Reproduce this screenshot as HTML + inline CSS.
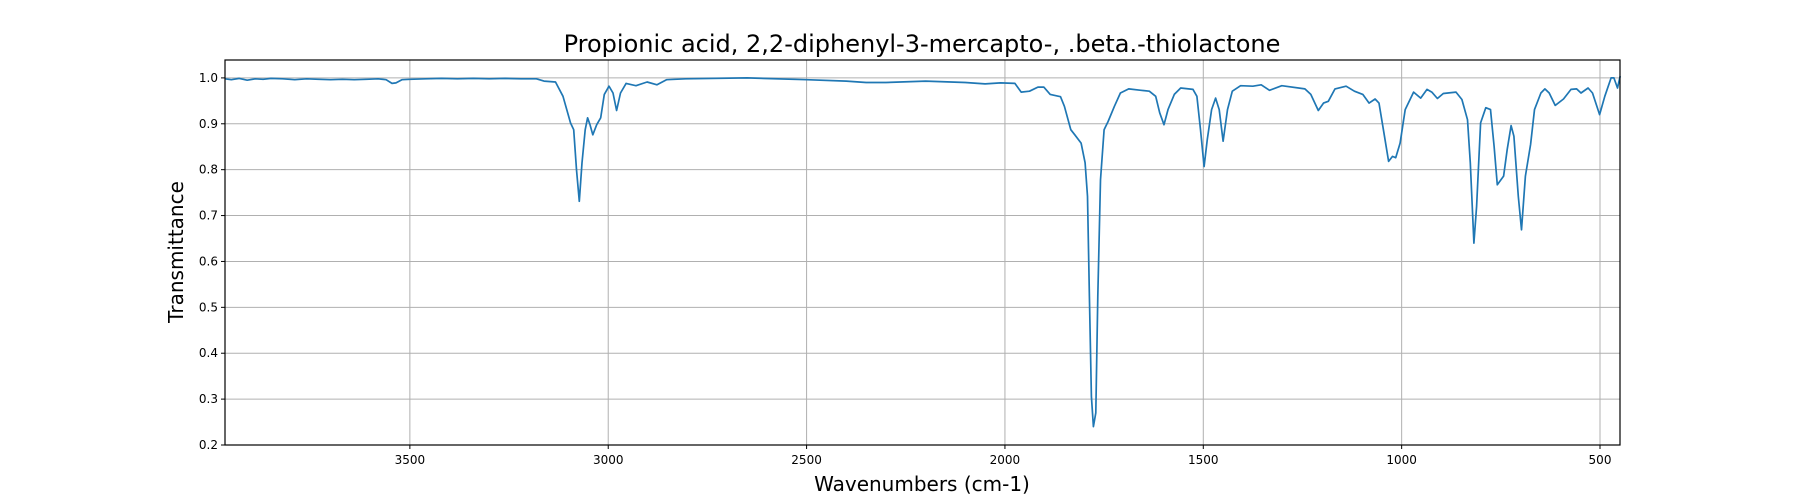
<!DOCTYPE html>
<html><head><meta charset="utf-8"><style>
body{margin:0;background:#fff;}
svg{display:block;font-family:"DejaVu Sans","Liberation Sans",sans-serif;}
</style></head><body>
<svg id="chart" width="1800" height="500">
<rect width="1800" height="500" fill="#fff"/>
<text x="922" y="52" font-size="24" text-anchor="middle">Propionic acid, 2,2-diphenyl-3-mercapto-, .beta.-thiolactone</text>
<text x="922" y="491" font-size="20" text-anchor="middle">Wavenumbers (cm-1)</text>
<text transform="translate(183,252) rotate(-90)" font-size="20" text-anchor="middle">Transmittance</text>
<g id="grid"></g><g id="ticks"></g><g id="series"></g>
<rect x="225" y="60" width="1395" height="385" fill="none" stroke="#000" stroke-width="1.2"/>
</svg>
<script>
const xTicks=[3500,3000,2500,2000,1500,1000,500];
const yTicks=[0.2,0.3,0.4,0.5,0.6,0.7,0.8,0.9,1.0];
const wavenumbers=[3966,3950,3930,3910,3890,3870,3850,3820,3790,3760,3730,3700,3670,3640,3610,3580,3560,3545,3535,3520,3500,3460,3420,3380,3340,3300,3260,3220,3181,3162,3133,3114,3095,3087,3080,3073,3066,3058,3052,3046,3039,3029,3019,3010,2998,2988,2979,2969,2955,2930,2902,2877,2853,2805,2650,2500,2400,2350,2300,2200,2100,2050,2011,1975,1959,1938,1917,1902,1886,1860,1850,1834,1824,1808,1798,1792,1787,1782,1777,1771,1766,1759,1750,1740,1724,1709,1688,1657,1636,1620,1610,1599,1589,1573,1557,1526,1516,1507,1498,1490,1479,1469,1460,1450,1439,1427,1406,1375,1354,1333,1302,1244,1229,1210,1197,1185,1168,1140,1119,1098,1082,1067,1057,1046,1033,1023,1015,1004,991,970,952,936,924,910,895,863,848,834,827,818,811,801,788,776,767,759,743,734,724,717,706,698,688,675,665,649,639,628,613,592,573,559,548,530,519,501,488,472,465,456,449];
const transmittance=[0.998,0.996,0.999,0.995,0.998,0.997,0.999,0.998,0.996,0.998,0.997,0.996,0.997,0.996,0.997,0.998,0.996,0.988,0.989,0.996,0.997,0.998,0.999,0.998,0.999,0.998,0.999,0.998,0.998,0.993,0.991,0.96,0.902,0.887,0.80,0.731,0.815,0.887,0.913,0.898,0.876,0.898,0.913,0.964,0.982,0.967,0.929,0.967,0.988,0.983,0.991,0.985,0.996,0.998,1.0,0.996,0.993,0.99,0.99,0.993,0.99,0.987,0.989,0.988,0.969,0.971,0.98,0.98,0.964,0.959,0.938,0.887,0.876,0.858,0.815,0.742,0.524,0.306,0.24,0.27,0.524,0.778,0.887,0.905,0.938,0.967,0.976,0.973,0.971,0.96,0.924,0.898,0.931,0.964,0.978,0.975,0.96,0.887,0.807,0.866,0.931,0.956,0.931,0.862,0.931,0.971,0.983,0.982,0.985,0.973,0.983,0.976,0.964,0.929,0.945,0.949,0.976,0.982,0.971,0.964,0.945,0.954,0.945,0.887,0.818,0.829,0.826,0.858,0.931,0.969,0.956,0.975,0.969,0.955,0.966,0.969,0.953,0.909,0.815,0.64,0.72,0.902,0.935,0.931,0.851,0.767,0.786,0.844,0.896,0.873,0.742,0.669,0.786,0.855,0.931,0.967,0.976,0.967,0.94,0.954,0.975,0.976,0.967,0.978,0.967,0.92,0.96,1.0,1.0,0.978,1.004];
const X0=225,X1=1620,Y0=60,Y1=445,WMAX=3966,WMIN=449.6,TMIN=0.2,TMAX=1.039;
const sx=w=>X0+(WMAX-w)/(WMAX-WMIN)*(X1-X0);
const sy=t=>Y1-(t-TMIN)/(TMAX-TMIN)*(Y1-Y0);
const NS="http://www.w3.org/2000/svg";
const grid=document.getElementById('grid'),ticks=document.getElementById('ticks'),series=document.getElementById('series');
function mk(tag,attrs,parent){const e=document.createElementNS(NS,tag);for(const k in attrs)e.setAttribute(k,attrs[k]);parent.appendChild(e);return e;}
xTicks.forEach(v=>{const x=sx(v);
const g=mk('line',{x1:x,x2:x,y1:Y0,y2:Y1,stroke:'#b0b0b0','stroke-width':1},grid);


mk('line',{x1:x,x2:x,y1:Y1,y2:Y1+4,stroke:'#000'},ticks);
const t=mk('text',{x:x,y:Y1+19,'font-size':12,'text-anchor':'middle'},ticks);t.textContent=v;

});
yTicks.forEach(v=>{const y=sy(v);
const g=mk('line',{x1:X0,x2:X1,y1:y,y2:y,stroke:'#b0b0b0','stroke-width':1},grid);


mk('line',{x1:X0-4,x2:X0,y1:y,y2:y,stroke:'#000'},ticks);
const t=mk('text',{x:X0-7,y:y+4,'font-size':12,'text-anchor':'end'},ticks);t.textContent=v.toFixed(1);

});
const pts=wavenumbers.map((w,i)=>sx(w).toFixed(1)+','+sy(transmittance[i]).toFixed(1)).join(' ');
const line=mk('polyline',{points:pts,fill:'none',stroke:'#1f77b4','stroke-width':1.7,'stroke-linejoin':'round'},series);


</script>
</body></html>
